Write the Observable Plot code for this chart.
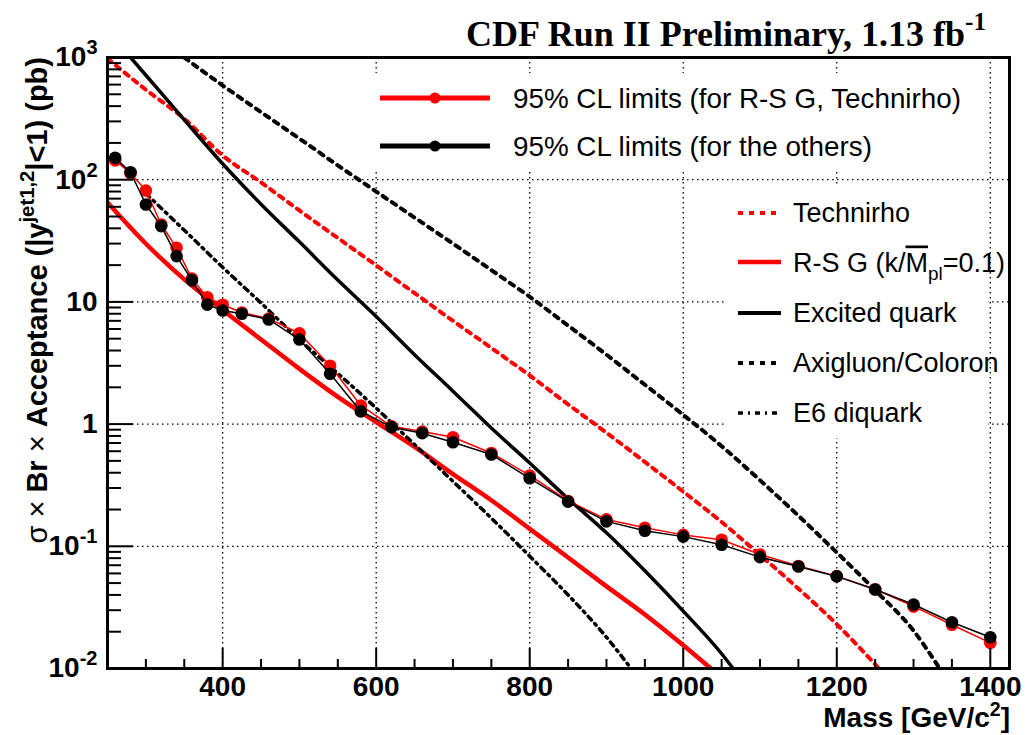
<!DOCTYPE html>
<html><head><meta charset="utf-8">
<script src="https://cdn.jsdelivr.net/npm/d3@7"></script>
<script src="https://cdn.jsdelivr.net/npm/@observablehq/plot@0.6"></script>
<style>
body{margin:0;background:#fff;}
#chart svg{font-family:"Liberation Sans",Arial,sans-serif;}
</style></head><body><div id="chart"></div>
<script>
// ---- data ----
const massLimits = [260,280,300,320,340,360,380,400,425,460,500,540,580,620,660,700,750,800,850,900,950,1000,1050,1100,1150,1200,1250,1300,1350,1400];
const limitRed   = [144,113,81.6,43,27.7,15.5,10.9,9.47,8.2,7.3,5.54,3.0,1.42,0.96,0.87,0.78,0.58,0.38,0.235,0.166,0.142,0.124,0.113,0.0857,0.069,0.057,0.0445,0.0322,0.0228,0.0162];
const limitBlack = [151,115,62.7,41.7,23.7,15.0,9.5,8.5,8.0,7.18,4.92,2.58,1.27,0.944,0.843,0.711,0.564,0.36,0.232,0.160,0.134,0.120,0.103,0.0815,0.0684,0.0567,0.0443,0.0334,0.0239,0.0180];

const techMass = [250,300,350,400,450,500,550,600,650,700,750,800,850,900,950,1000,1050,1100,1150,1200,1255];
const techVal  = [980,545,315,158,95,56,33.3,19.9,11.8,7.0,4.2,2.5,1.45,0.85,0.49,0.28,0.158,0.085,0.045,0.023,0.01];

const rsMass = [250,300,350,400,450,500,550,600,650,700,750,800,850,900,950,1000,1036];
const rsVal  = [65,29.9,15.3,8.6,4.93,2.83,1.67,1.04,0.65,0.39,0.238,0.139,0.081,0.047,0.0277,0.0155,0.01];

const qMass = [280,300,350,400,450,500,550,600,650,700,750,800,850,900,950,1000,1050,1065];
const qVal  = [1000,716,309,135,63,31,15.1,7.6,3.7,1.86,0.93,0.48,0.245,0.129,0.063,0.0295,0.0132,0.01];

const axiMass = [350,400,450,500,550,600,650,700,750,800,850,900,950,1000,1050,1100,1150,1200,1250,1300,1334];
const axiVal  = [1000,590,357,217,131,80,49,30,18.2,11.0,6.4,3.7,2.1,1.19,0.66,0.347,0.178,0.089,0.0437,0.0204,0.01];

const e6Mass = [300,350,400,450,500,550,600,650,700,750,800,850,900,932];
const e6Val  = [77,38.6,19.2,9.8,4.9,2.6,1.35,0.68,0.34,0.17,0.083,0.040,0.018,0.01];

const xMajor = [400,600,800,1000,1200,1400];
const xMinor = [300,350,450,500,550,650,700,750,850,900,950,1050,1100,1150,1250,1300,1350];
const yMajor = [0.01,0.1,1,10,100,1000];
const yLabels = ["10^-2","10^-1","1","10","10^2","10^3"];
const yMinor = [];
for (const d of [0.01,0.1,1,10,100]) for (let j=2;j<=9;j++) yMinor.push(+(d*j).toPrecision(3));

const legend1Labels = ["95% CL limits (for R-S G, Technirho)","95% CL limits (for the others)"];
const legend2Labels = ["Technirho","R-S G","Excited quark","Axigluon/Coloron","E6 diquark"];

// ---- build ----
const W = 1034, H = 735, ML = 107, MR = 25, MT = 57, MB = 67;
const FW = W - ML - MR, FH = H - MT - MB;
const pts = (ms, vs) => ms.map((m,i)=>({m, v: vs[i]}));
const gridStyle = {stroke:"black", strokeOpacity:1, strokeWidth:1.3, strokeDasharray:"1.5,3.5"};
const DASH = "5,6", DASHDOT = "5,5,2,5";
const tickX = (data, len) => Plot.tickX(data, {x: d=>d, insetTop: FH - len, stroke:"black", strokeWidth:2});
const tickY = (data, len) => Plot.tickY(data, {y: d=>d, insetRight: FW - len, stroke:"black", strokeWidth:2});

const chart = Plot.plot({
  width:W, height:H,
  marginLeft:ML, marginRight:MR, marginTop:MT, marginBottom:MB,
  style:{background:"white", overflow:"visible"},
  x:{domain:[250,1425]},
  y:{type:"log", domain:[0.01,1000]},
  marks:[
    Plot.gridX(xMajor, gridStyle),
    Plot.gridY([0.1,1,10,100], gridStyle),
    Plot.line(pts(techMass,techVal), {x:"m", y:"v", stroke:"red", strokeWidth:4, strokeDasharray:DASH, curve:"monotone-x", clip:true}),
    Plot.line(pts(rsMass,rsVal), {x:"m", y:"v", stroke:"red", strokeWidth:4.5, curve:"monotone-x", clip:true}),
    Plot.line(pts(qMass,qVal), {x:"m", y:"v", stroke:"black", strokeWidth:3.5, curve:"monotone-x", clip:true}),
    Plot.line(pts(axiMass,axiVal), {x:"m", y:"v", stroke:"black", strokeWidth:4, strokeDasharray:DASH, curve:"monotone-x", clip:true}),
    Plot.line(pts(e6Mass,e6Val), {x:"m", y:"v", stroke:"black", strokeWidth:3.5, strokeDasharray:DASHDOT, curve:"monotone-x", clip:true}),
    Plot.line(pts(massLimits,limitRed), {x:"m", y:"v", stroke:"red", strokeWidth:1.5}),
    Plot.dot(pts(massLimits,limitRed), {x:"m", y:"v", fill:"red", r:6.3}),
    Plot.line(pts(massLimits,limitBlack), {x:"m", y:"v", stroke:"black", strokeWidth:1.5}),
    Plot.dot(pts(massLimits,limitBlack), {x:"m", y:"v", fill:"black", r:6.3}),
    tickX(xMinor, 9),
    tickX(xMajor, 20),
    tickY(yMinor, 14),
    tickY(yMajor, 26),
    Plot.axisX(xMajor, {tickSize:0, tickPadding:8, fontSize:28, fontWeight:"bold", label:null, tickFormat:d=>String(d)}),
    Plot.axisY(yMajor, {tickSize:0, tickPadding:10, fontSize:28, fontWeight:"bold", label:null, tickFormat:d=>yLabels[yMajor.indexOf(d)]}),
    Plot.frame({stroke:"black", strokeWidth:3})
  ]
});
document.getElementById("chart").appendChild(chart);

const svg = d3.select(chart);

// superscripts on tick labels
svg.selectAll("text").each(function(){
  const m = /^10\^(-?\d+)$/.exec(this.textContent);
  if (m) {
    const el = d3.select(this);
    el.text("10");
    el.append("tspan").attr("dy",-12).attr("font-size",20).text(m[1]);
  }
});

function rich(g, parts, base, supShift = 0.45) {
  const t = g.append("text").attr("text-anchor","start");
  let shift = 0;
  for (const [s, kind] of parts) {
    const ts = t.append("tspan").text(s);
    let target = 0;
    if (kind === "sup") { target = -supShift*base; ts.attr("font-size", base*0.7); }
    else if (kind === "sub") { target = 0.3*base; ts.attr("font-size", base*0.7); }
    if (kind === "over") ts.style("text-decoration","overline");
    if (kind === "thin") ts.attr("font-weight","normal");
    ts.attr("dy", target - shift);
    shift = target;
  }
  return t;
}

rich(svg, [["CDF Run II Preliminary, 1.13 fb"], ["-1","sup"]], 36)
  .attr("x",986).attr("y",46).attr("text-anchor","end")
  .attr("font-family","Liberation Serif, Times New Roman, serif").attr("font-weight","bold").attr("font-size",36);

rich(svg, [["Mass [GeV/c"],["2","sup"],["]"]], 28, 0.4)
  .attr("x",1010).attr("y",727).attr("text-anchor","end")
  .attr("font-weight","bold").attr("font-size",28);

rich(svg, [["σ","thin"],[" × ","thin"],["Br"],[" × ","thin"],["Acceptance (|y"],["jet1,2","sup"],["|<1) (pb)"]], 29)
  .attr("transform","translate(47,57) rotate(-90)").attr("text-anchor","end")
  .attr("font-weight","bold").attr("font-size",29);

const lg1 = svg.append("g");
lg1.append("rect").attr("x",368).attr("y",73).attr("width",620).attr("height",97).attr("fill","white");
[["red",98],["black",146]].forEach(([c,y],i)=>{
  lg1.append("line").attr("x1",380).attr("x2",490).attr("y1",y).attr("y2",y).attr("stroke",c).attr("stroke-width",5);
  lg1.append("circle").attr("cx",435).attr("cy",y).attr("r",5.5).attr("fill",c);
  lg1.append("text").attr("x",513).attr("y",y).attr("dy","0.35em").attr("text-anchor","start").attr("font-size",27.8).text(legend1Labels[i]);
});

const lg2 = svg.append("g");
lg2.append("rect").attr("x",726).attr("y",186).attr("width",262).attr("height",252).attr("fill","white");
const l2style = [
  {c:"red", w:4, d:DASH, y:213},
  {c:"red", w:4.5, d:null, y:262},
  {c:"black", w:4, d:null, y:313},
  {c:"black", w:4, d:DASH, y:363},
  {c:"black", w:3.5, d:DASHDOT, y:413}
];
l2style.forEach((s,i)=>{
  lg2.append("line").attr("x1",738).attr("x2",781).attr("y1",s.y).attr("y2",s.y)
    .attr("stroke",s.c).attr("stroke-width",s.w).attr("stroke-dasharray",s.d);
  if (i===1) {
    rich(lg2, [["R-S G (k/"],["M","over"],["pl","sub"],["=0.1)"]], 27)
      .attr("x",793).attr("y",s.y + 9.5).attr("font-size",27);
  } else {
    lg2.append("text").attr("x",793).attr("y",s.y).attr("dy","0.35em").attr("text-anchor","start").attr("font-size",27).text(legend2Labels[i]);
  }
});
</script></body></html>
